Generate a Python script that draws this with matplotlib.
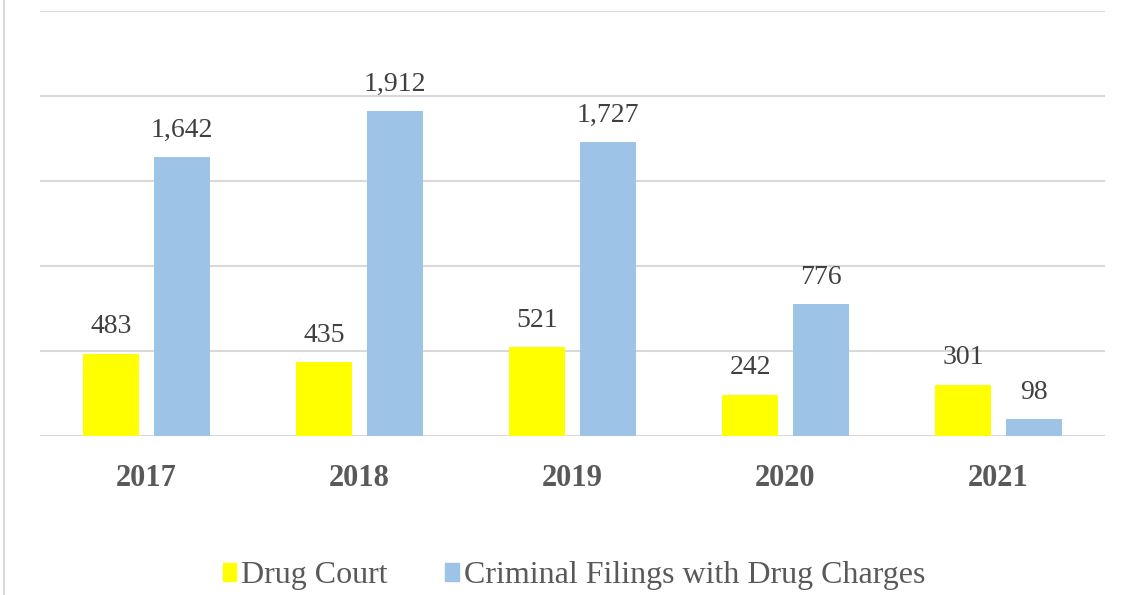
import matplotlib.pyplot as plt
from matplotlib.lines import Line2D
from matplotlib.patches import Patch
import numpy as np

years = ["2017", "2018", "2019", "2020", "2021"]
drug_court = [483, 435, 521, 242, 301]
criminal_filings = [1642, 1912, 1727, 776, 98]

plt.rcParams["font.family"] = ["Liberation Serif", "DejaVu Serif"]
txt = "#404040"

fig = plt.figure(figsize=(11.38, 5.95), dpi=100)
ax = fig.add_axes([40 / 1138, 1 - 436 / 595, 1065 / 1138, 425 / 595])

x = np.arange(len(years))
w = 0.265
off = 0.166
b1 = ax.bar(x - off, drug_court, w, color="#FFFF00", zorder=3)
b2 = ax.bar(x + off, criminal_filings, w, color="#9DC3E6", zorder=3)

for bars in (b1, b2):
    for r in bars:
        v = r.get_height()
        ax.text(r.get_x() + r.get_width() / 2, v + 85, f"{int(v):,}",
                ha="center", va="bottom", fontsize=20, color=txt)

ax.set_xlim(-0.5, len(years) - 0.5)
ax.set_ylim(0, 2500)
ax.set_yticks(np.arange(0, 2501, 500))
ax.yaxis.grid(True, color="#D9D9D9", linewidth=1.5, zorder=0)
ax.tick_params(axis="y", length=0, labelleft=False)
ax.tick_params(axis="x", length=0, pad=20)
ax.set_xticks(x)
ax.set_xticklabels(years, fontsize=22, fontweight="bold", color="#595959")
for s in ax.spines.values():
    s.set_visible(False)

fig.add_artist(Line2D([4 / 1138, 4 / 1138], [0, 1], color="#D9D9D9", linewidth=1.5))

handles = [Patch(color="#FFFF00", label="Drug Court"),
           Patch(color="#9DC3E6", label="Criminal Filings with Drug Charges")]
leg = fig.legend(handles=handles, loc="center", bbox_to_anchor=(574 / 1138, 1 - 576 / 595),
                 ncol=2, frameon=False, fontsize=23, handlelength=0.42, handleheight=0.5,
                 handletextpad=0.15, columnspacing=1.8, borderpad=0)
for t in leg.get_texts():
    t.set_color("#595959")

fig.savefig("out.png", dpi=100)
